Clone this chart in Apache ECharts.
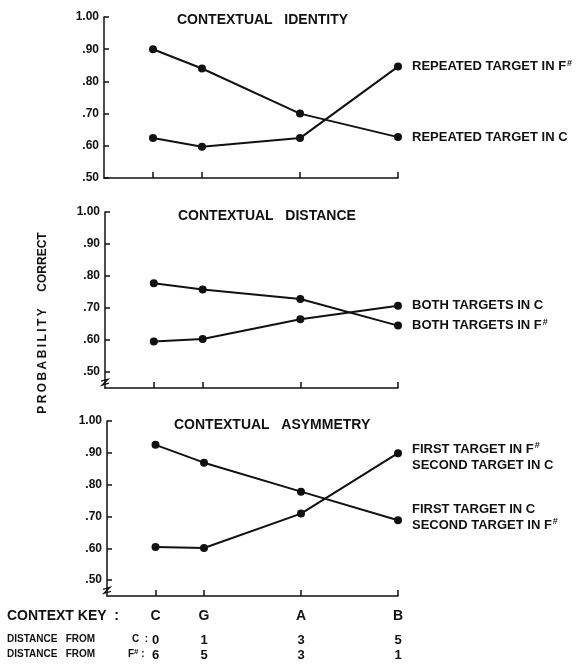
<!DOCTYPE html>
<html>
<head>
<meta charset="utf-8">
<script src="https://cdn.jsdelivr.net/npm/echarts@6/dist/echarts.min.js"></script>
<style>
html,body{margin:0;padding:0;background:#fff;}
#chart{width:584px;height:664px;}
</style>
</head>
<body>
<div id="chart"></div>
<script>
// ---- data ----
const contextKey = ['C', 'G', 'A', 'B'];
const distFromC = [0, 1, 3, 5];
const distFromF = [6, 5, 3, 1];
const yTicks = [0.5, 0.6, 0.7, 0.8, 0.9, 1.0];

const panelTitles = ['CONTEXTUAL   IDENTITY', 'CONTEXTUAL   DISTANCE', 'CONTEXTUAL   ASYMMETRY'];

const identityInC = [0.900, 0.840, 0.700, 0.627];
const identityInF = [0.624, 0.597, 0.624, 0.846];
const distanceInF = [0.777, 0.758, 0.728, 0.645];
const distanceInC = [0.595, 0.603, 0.665, 0.707];
const asymFirstC = [0.925, 0.869, 0.778, 0.688];
const asymFirstF = [0.604, 0.601, 0.709, 0.899];

// ---- styling ----
const FONT = '"Liberation Sans", Arial, sans-serif';
const INK = '#111';
const grids = [
  {left: 104, top: 17, width: 294, height: 161},
  {left: 105, top: 212, width: 293, height: 176},
  {left: 107, top: 421, width: 291, height: 175}
];
const yMins = [0.5, 0.45, 0.45];
const titleTops = [13, 209, 418];
const titleLefts = [177, 178, 174];

const sup = {fontSize: 9, fontWeight: 'bold', fontFamily: FONT, color: INK, verticalAlign: 'top', lineHeight: 16, padding: [0, 0, 0, 1]};

function mkSeries(vals, g, text, offset) {
  return {
    type: 'line', xAxisIndex: g, yAxisIndex: g,
    symbol: 'circle', symbolSize: 8,
    lineStyle: {color: INK, width: 2},
    itemStyle: {color: INK},
    label: {show: false},
    silent: true, animation: false,
    data: vals.map((v, i) => {
      const d = {value: [distFromC[i], v]};
      if (i === vals.length - 1) {
        d.label = {
          show: true, position: 'right', distance: 10, offset: offset || [0, 0],
          formatter: text, fontFamily: FONT, fontWeight: 'bold', fontSize: 13,
          color: INK, lineHeight: 16, rich: {s: sup}
        };
      }
      return d;
    })
  };
}

const xAxes = grids.map((gr, g) => ({
  type: 'value', gridIndex: g, min: -1, max: 5,
  axisLine: {show: true, onZero: false, lineStyle: {color: INK, width: 1.5}},
  axisTick: {show: true, inside: true, length: 6, customValues: distFromC, lineStyle: {color: INK, width: 1.5}},
  axisLabel: g === 2 ? {
    customValues: distFromC, margin: 13,
    formatter: v => contextKey[distFromC.indexOf(v)],
    fontFamily: FONT, fontWeight: 'bold', fontSize: 14, color: INK
  } : {show: false},
  splitLine: {show: false}
}));
// distance rows, as extra axes under the bottom panel
xAxes.push({
  type: 'value', gridIndex: 2, min: -1, max: 5, position: 'bottom', offset: 34,
  axisLine: {show: false, onZero: false}, axisTick: {show: false}, splitLine: {show: false},
  axisLabel: {customValues: distFromC, margin: 4, formatter: v => String(v),
    fontFamily: FONT, fontWeight: 'bold', fontSize: 13, color: INK}
});
xAxes.push({
  type: 'value', gridIndex: 2, min: -1, max: 5, position: 'bottom', offset: 49,
  axisLine: {show: false, onZero: false}, axisTick: {show: false}, splitLine: {show: false},
  axisLabel: {customValues: distFromC, margin: 4, formatter: v => String(distFromF[distFromC.indexOf(v)]),
    fontFamily: FONT, fontWeight: 'bold', fontSize: 13, color: INK}
});

const yAxes = grids.map((gr, g) => ({
  type: 'value', gridIndex: g, min: yMins[g], max: 1.0,
  axisLine: {show: true, onZero: false, lineStyle: {color: INK, width: 1.5}},
  axisTick: {show: true, inside: true, length: 5, customValues: yTicks, lineStyle: {color: INK, width: 1.5}},
  axisLabel: {customValues: yTicks, margin: 5,
    formatter: v => v >= 0.995 ? '1.00' : v.toFixed(2).replace(/^0/, ''),
    fontFamily: FONT, fontWeight: 'bold', fontSize: 12, color: INK},
  splitLine: {show: false}
}));

const chart = echarts.init(document.getElementById('chart'), null, {renderer: 'canvas'});

const option = {
  backgroundColor: '#fff',
  animation: false,
  title: panelTitles.map((t, i) => ({
    text: t, left: titleLefts[i], top: titleTops[i], padding: 0,
    textStyle: {fontFamily: FONT, fontWeight: 'bold', fontSize: 14, color: INK}
  })),
  grid: grids,
  xAxis: xAxes,
  yAxis: yAxes,
  series: [
    mkSeries(identityInC, 0, 'REPEATED TARGET IN C'),
    mkSeries(identityInF, 0, 'REPEATED TARGET IN F{s|#}'),
    mkSeries(distanceInF, 1, 'BOTH TARGETS IN F{s|#}'),
    mkSeries(distanceInC, 1, 'BOTH TARGETS IN C'),
    mkSeries(asymFirstC, 2, 'FIRST TARGET IN C\nSECOND TARGET IN F{s|#}', [0, -3]),
    mkSeries(asymFirstF, 2, 'FIRST TARGET IN F{s|#}\nSECOND TARGET IN C', [0, 4])
  ]
};
chart.setOption(option);

// text and axis-break decorations
const txt = (id, x, y, text, size, extra) => Object.assign({
  type: 'text', id: id, x: x, y: y, silent: true,
  style: {text: text, fontFamily: FONT, fontWeight: 'bold', fontSize: size, fill: INK,
    align: 'left', verticalAlign: 'middle', rich: {s: {fontSize: 8, fontWeight: 'bold', fontFamily: FONT, fill: INK, verticalAlign: 'top', lineHeight: 12}}}
}, extra || {});

const graphics = [
  txt('ylab', 43, 323, 'P\u2009R\u2009O\u2009B\u2009A\u2009B\u2009I\u2009L\u2009I\u2009T\u2009Y     CORRECT', 12,
      {rotation: Math.PI / 2}),
  txt('ck', 7, 616, 'CONTEXT KEY  :', 14),
  txt('d1', 7, 639, 'DISTANCE   FROM', 10),
  txt('d1c', 132, 639, 'C  :', 10),
  txt('d2', 7, 654, 'DISTANCE   FROM', 10),
  txt('d2f', 128, 654, 'F{s|#} :', 10)
];
graphics[0].style.align = 'center';

[1, 2].forEach(g => {
  const p = chart.convertToPixel({gridIndex: g}, [-1, 0.468]);
  graphics.push({
    type: 'polyline', id: 'brk' + g, silent: true,
    shape: {points: [[p[0] - 4, p[1] - 1], [p[0] + 3, p[1] - 3], [p[0] - 3, p[1] + 3], [p[0] + 4, p[1] + 1]]},
    style: {stroke: INK, lineWidth: 1.3, fill: null}
  });
});
chart.setOption({graphic: graphics});
</script>
</body>
</html>
